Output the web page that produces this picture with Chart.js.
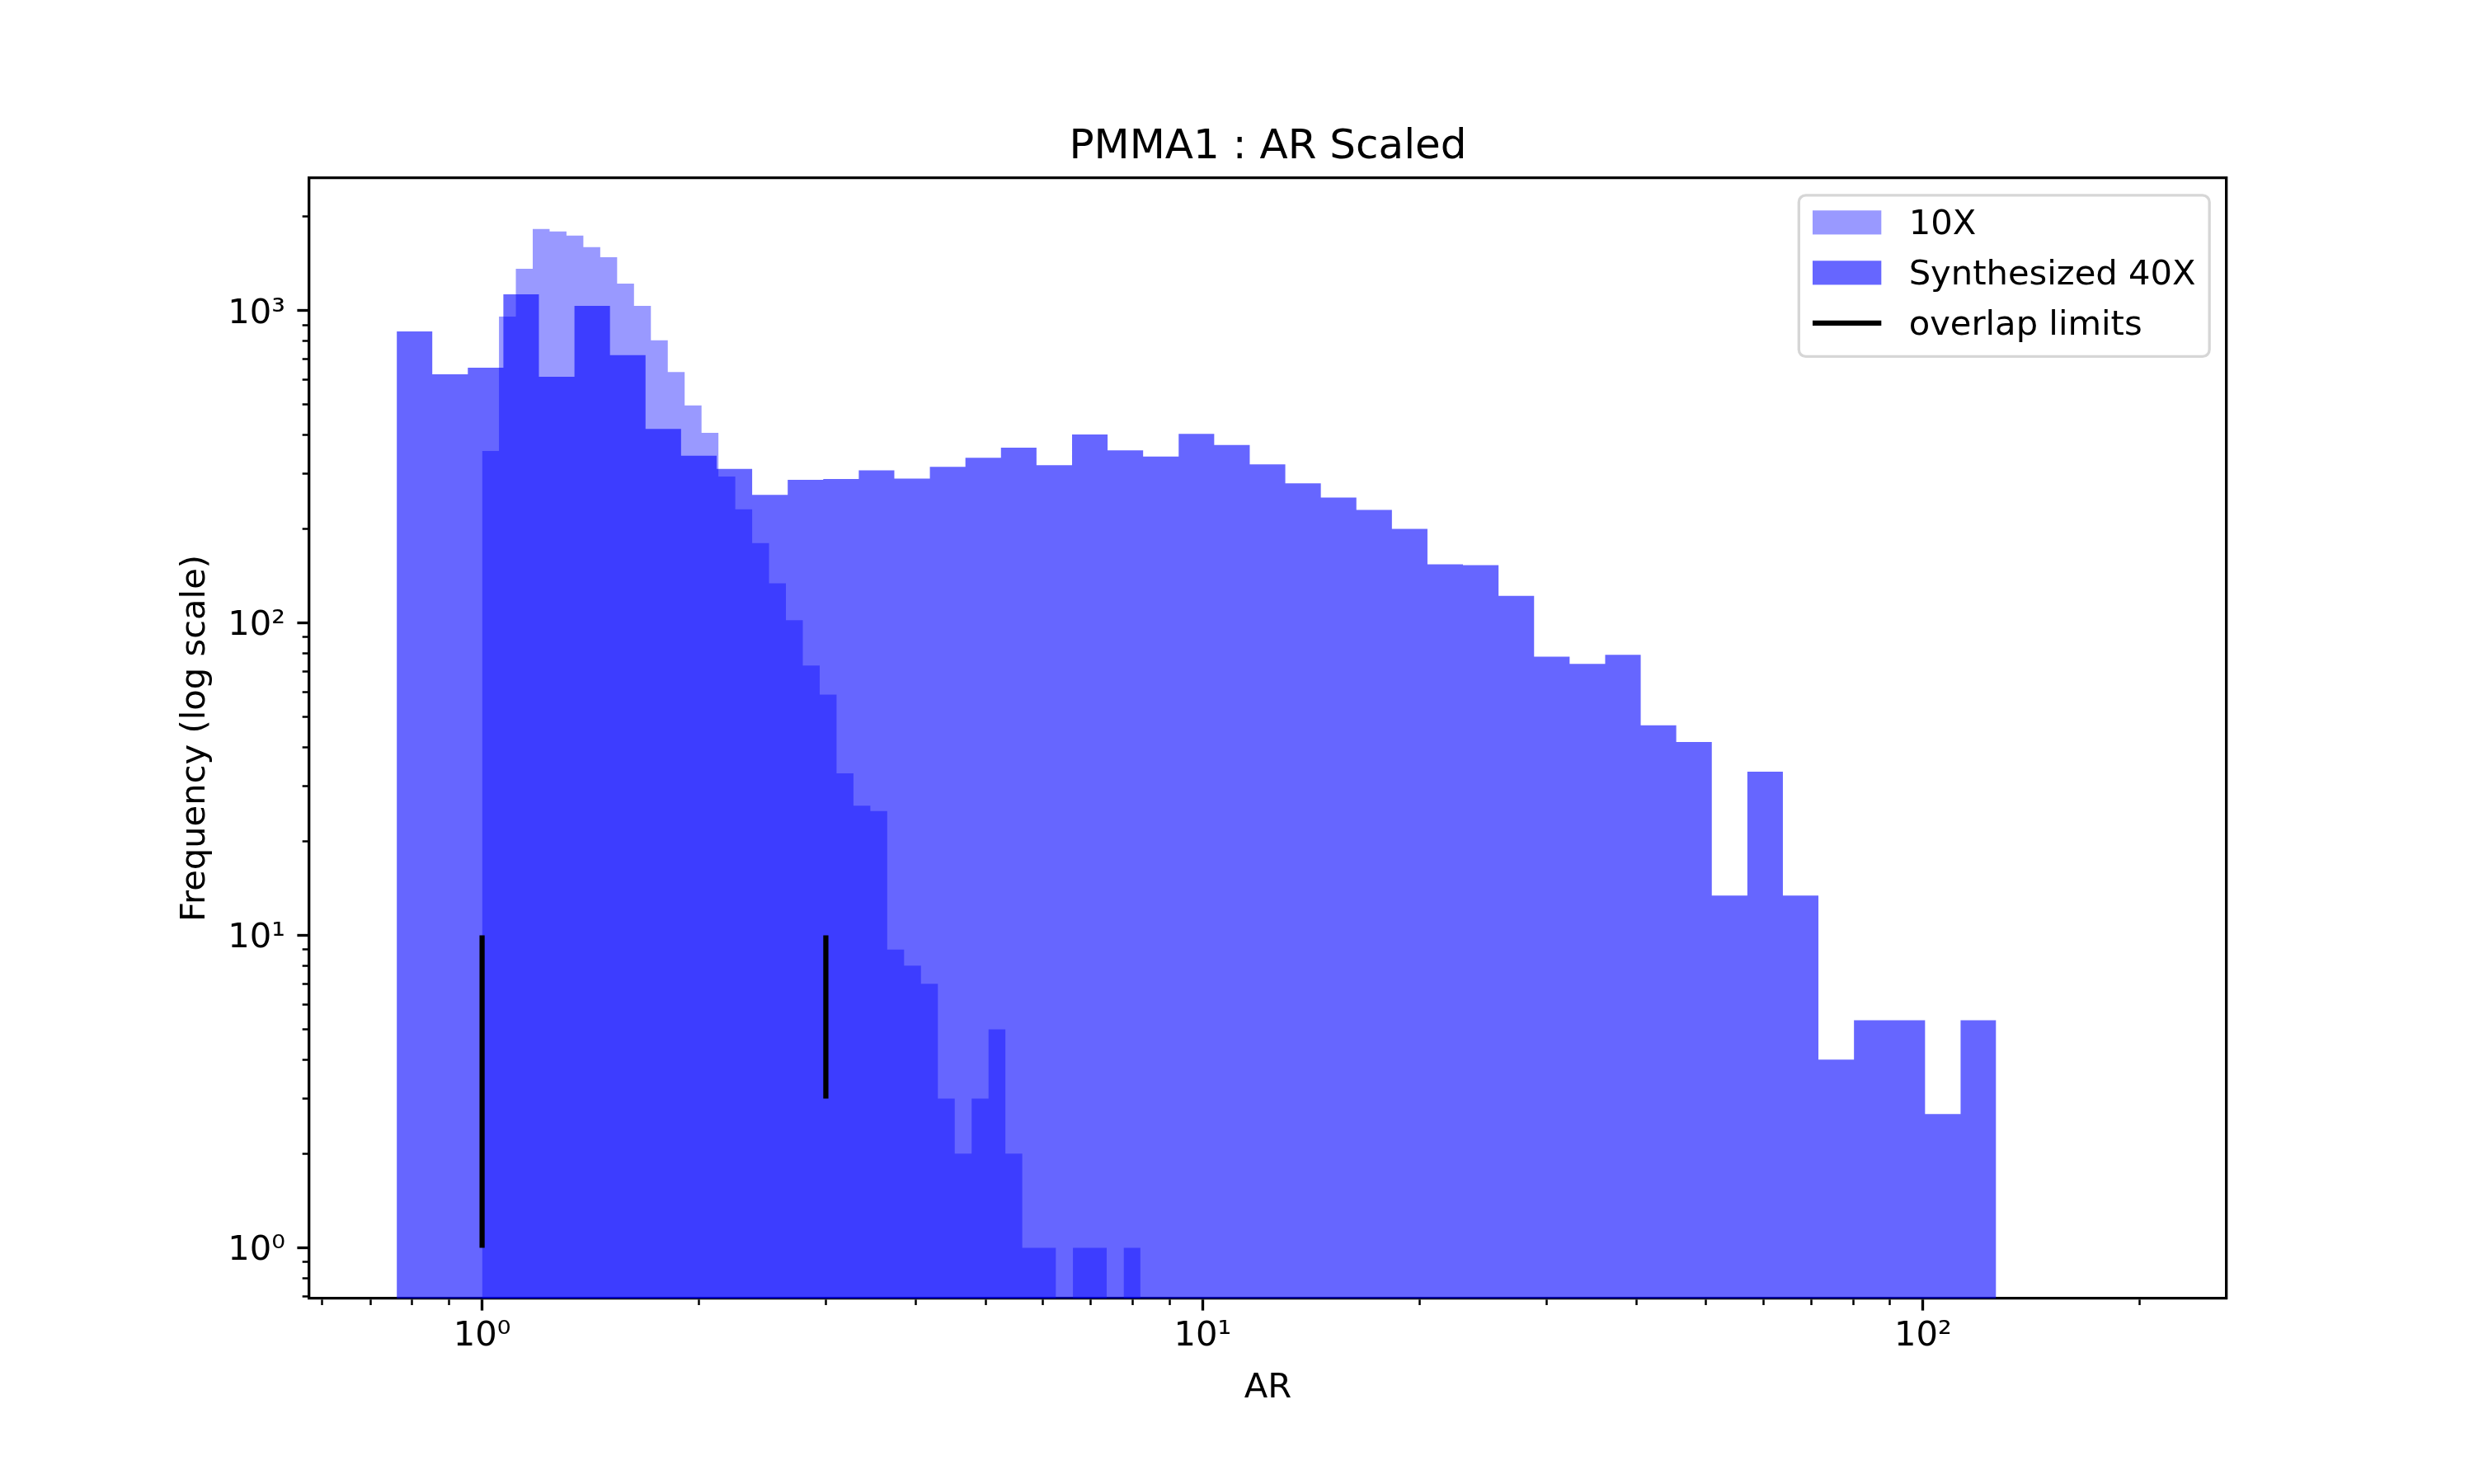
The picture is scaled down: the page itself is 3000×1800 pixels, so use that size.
<!DOCTYPE html>
<html>
<head>
<meta charset="utf-8">
<title>PMMA1 : AR Scaled</title>
<script src="https://cdn.jsdelivr.net/npm/chart.js@4.4.1/dist/chart.umd.min.js"></script>
<style>
  html, body { margin: 0; padding: 0; background: #fff; }
  #wrap { width: 3000px; height: 1800px; }
</style>
</head>
<body>
<div id="wrap"><canvas id="arChart" width="3000" height="1800"></canvas></div>
<script>
// values
const chartTitle = 'PMMA1 : AR Scaled';
const xTitle = 'AR';
const yTitle = 'Frequency (log scale)';
const seriesLabels = ['10X', 'Synthesized 40X', 'overlap limits'];

// 10X: log-spaced bins starting at AR = 1 (bin width in decades)
const bins10XStart = 1.0;
const bins10XStep = 0.02343;
const counts10X = [355, 957, 1361, 1823, 1790, 1738, 1597, 1481, 1219, 1035,
  803, 636, 497, 406, 294, 231, 180, 134, 102, 73,
  59, 33, 26, 25, 9, 8, 7, 3, 2, 3,
  5, 2, 1, 1, 0, 1, 1, 0, 1];

// Synthesized 40X: log-spaced bins starting at AR ~ 0.76
const bins40XStart = 0.7613;
const bins40XStep = 0.04933;
const counts40X = [857, 625, 656, 1127, 614, 1035, 720, 418, 343, 311,
  257, 287, 289, 308, 290, 316, 338, 364, 320, 401,
  357, 341, 403, 371, 322, 280, 252, 230, 200, 154,
  153, 122, 78, 74, 79, 47, 41.6, 13.4, 33.4, 13.4,
  4.0, 5.35, 5.35, 2.68, 5.35];

// vertical "overlap limits" markers
const overlapAR = [1, 3];
const overlapFrom = [1, 3];
const overlapTo = [10, 10];

// axes
const xRange = [0.5756, 263.8];
const yRange = [0.6877, 2655];
const xMajorTicks = [1, 10, 100];
const xMajorLabels = ['10⁰', '10¹', '10²'];
const xMinorTicks = [0.6, 0.7, 0.8, 0.9, 2, 3, 4, 5, 6, 7, 8, 9,
  20, 30, 40, 50, 60, 70, 80, 90, 200];
const yMajorTicks = [1, 10, 100, 1000];
const yMajorLabels = ['10⁰', '10¹', '10²', '10³'];
const yMinorTicks = [0.7, 0.8, 0.9, 2, 3, 4, 5, 6, 7, 8, 9,
  20, 30, 40, 50, 60, 70, 80, 90, 200, 300, 400, 500, 600, 700, 800, 900, 2000];

// sizes (the original was a 300 dpi figure)
const PT = 300 / 72;
const FONT_PX = 10 * PT;
const TITLE_PX = 12 * PT;

Chart.defaults.font.family = "'DejaVu Sans', sans-serif";
Chart.defaults.color = '#000';

const binEdges = (start, step, n) =>
  Array.from({ length: n + 1 }, (_, i) => start * Math.pow(10, i * step));

// outline of a histogram: flat top per bin, break the line on empty bins
function histPoints(edges, counts) {
  const pts = [];
  counts.forEach((c, i) => {
    if (c > 0) {
      pts.push({ x: edges[i], y: c }, { x: edges[i + 1], y: c });
    } else {
      pts.push({ x: edges[i], y: null });
    }
  });
  return pts;
}

const edges10X = binEdges(bins10XStart, bins10XStep, counts10X.length);
const edges40X = binEdges(bins40XStart, bins40XStep, counts40X.length);
const overlapPoints = overlapAR.flatMap((ar, i) => [
  { x: ar, y: overlapFrom[i] }, { x: ar, y: overlapTo[i] }, { x: ar, y: null }
]);

function makeTicks(major, minor) {
  return major.map(v => ({ value: v, major: true }))
    .concat(minor.map(v => ({ value: v, major: false })))
    .sort((a, b) => a.value - b.value);
}

const isMajor = c => c.tick && c.tick.major;
const tickGrid = (minorDash) => ({
  display: true,
  drawOnChartArea: false,
  drawTicks: true,
  tickLength: 3.5 * PT,
  tickColor: '#000',
  tickWidth: c => isMajor(c) ? 0.8 * PT : 0.6 * PT,
  tickBorderDash: c => isMajor(c) ? [] : minorDash
});
const spine = { display: true, color: '#000', width: 0.8 * PT };

// legend box inside the top-right corner of the plot, like matplotlib's
const insideLegend = {
  id: 'insideLegend',
  afterDraw(chart) {
    const { ctx, chartArea } = chart;
    const fs = FONT_PX;
    const items = chart.data.datasets.map(ds => ({
      label: ds.label,
      fill: ds.fill ? ds.backgroundColor : null,
      line: ds.fill ? null : ds.borderColor,
      lineWidth: ds.borderWidth
    }));
    ctx.save();
    ctx.font = fs + 'px "DejaVu Sans"';
    const textW = Math.max(...items.map(it => ctx.measureText(it.label).width));
    const pad = 0.4 * fs, handleW = 2 * fs, gap = 0.8 * fs;
    const boxW = pad + handleW + gap + textW + pad;
    const boxH = 4.694 * fs;
    const right = chartArea.right - 0.5 * fs;
    const top = chartArea.top + 0.5 * fs;
    const left = right - boxW;

    ctx.beginPath();
    ctx.roundRect(left, top, boxW, boxH, 0.2 * fs);
    ctx.fillStyle = 'rgba(255,255,255,0.8)';
    ctx.fill();
    ctx.lineWidth = 0.8 * PT;
    ctx.strokeStyle = 'rgba(204,204,204,0.8)';
    ctx.stroke();

    items.forEach((it, i) => {
      const cy = top + 0.792 * fs + i * 1.464 * fs;
      const hx = left + pad;
      if (it.fill) {
        ctx.fillStyle = it.fill;
        ctx.fillRect(hx, cy - 0.35 * fs, handleW, 0.7 * fs);
      } else {
        ctx.strokeStyle = it.line;
        ctx.lineWidth = it.lineWidth;
        ctx.beginPath();
        ctx.moveTo(hx, cy);
        ctx.lineTo(hx + handleW, cy);
        ctx.stroke();
      }
      ctx.fillStyle = '#000';
      ctx.textAlign = 'left';
      ctx.textBaseline = 'alphabetic';
      ctx.fillText(it.label, hx + handleW + gap, cy + 0.35 * fs);
    });
    ctx.restore();
  }
};

new Chart(document.getElementById('arChart'), {
  type: 'line',
  data: {
    datasets: [
      {
        label: seriesLabels[0],
        data: histPoints(edges10X, counts10X),
        backgroundColor: 'rgba(0, 0, 255, 0.4)',
        borderWidth: 0,
        fill: 'start',
        pointRadius: 0,
        order: 1
      },
      {
        label: seriesLabels[1],
        data: histPoints(edges40X, counts40X),
        backgroundColor: 'rgba(0, 0, 255, 0.6)',
        borderWidth: 0,
        fill: 'start',
        pointRadius: 0,
        order: 2
      },
      {
        label: seriesLabels[2],
        data: overlapPoints,
        borderColor: '#000',
        borderWidth: 1.5 * PT,
        fill: false,
        pointRadius: 0,
        order: 0
      }
    ]
  },
  options: {
    responsive: false,
    devicePixelRatio: 1,
    animation: false,
    events: [],
    layout: { padding: 0 },
    elements: { line: { tension: 0 } },
    plugins: {
      legend: { display: false },
      tooltip: { enabled: false },
      title: {
        display: true,
        text: chartTitle,
        fullSize: false,
        color: '#000',
        font: { size: TITLE_PX, weight: 'normal', lineHeight: 1.2 },
        padding: { top: 149.2, bottom: 0 }
      }
    },
    scales: {
      x: {
        type: 'logarithmic',
        position: 'bottom',
        min: xRange[0],
        max: xRange[1],
        afterBuildTicks: axis => { axis.ticks = makeTicks(xMajorTicks, xMinorTicks); },
        afterFit: axis => { axis.height = 225; },
        grid: tickGrid([1.6 * PT, 200]),
        border: spine,
        ticks: {
          autoSkip: false,
          maxRotation: 0,
          minRotation: 0,
          padding: 7,
          font: { size: FONT_PX },
          callback: v => {
            const k = xMajorTicks.indexOf(v);
            return k >= 0 ? xMajorLabels[k] : '';
          }
        },
        title: {
          display: true,
          text: xTitle,
          font: { size: FONT_PX, lineHeight: 1.2 },
          padding: { top: 0, bottom: 90.9 }
        }
      },
      y: {
        type: 'logarithmic',
        position: 'left',
        min: yRange[0],
        max: yRange[1],
        afterBuildTicks: axis => { axis.ticks = makeTicks(yMajorTicks, yMinorTicks); },
        afterFit: axis => { axis.width = 375; },
        grid: tickGrid([0, 1.5 * PT, 1.6 * PT, 200]),
        border: spine,
        ticks: {
          autoSkip: false,
          padding: 3.5 * PT,
          labelOffset: 4,
          font: { size: FONT_PX },
          callback: v => {
            const k = yMajorTicks.indexOf(v);
            return k >= 0 ? yMajorLabels[k] : '';
          }
        },
        title: {
          display: true,
          text: yTitle,
          font: { size: FONT_PX, lineHeight: 1.2 },
          padding: { top: 212, bottom: 0 }
        }
      },
      // top and right spines of the axes box
      x2: {
        type: 'linear',
        position: 'top',
        afterFit: axis => { axis.height = 6.8; },
        grid: { display: true, drawOnChartArea: false, drawTicks: false },
        border: spine,
        ticks: { display: false }
      },
      y2: {
        type: 'linear',
        position: 'right',
        afterFit: axis => { axis.width = 300; },
        grid: { display: true, drawOnChartArea: false, drawTicks: false },
        border: spine,
        ticks: { display: false }
      }
    }
  },
  plugins: [insideLegend]
});
</script>
</body>
</html>
